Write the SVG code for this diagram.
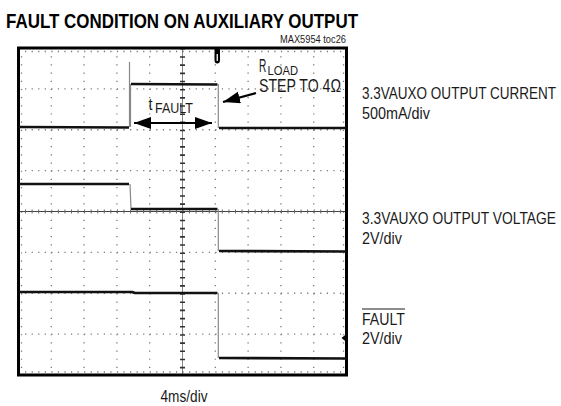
<svg xmlns="http://www.w3.org/2000/svg" width="561" height="406" viewBox="0 0 561 406">
<style>
text{font-family:"Liberation Sans",Arial,sans-serif;fill:#1a1a1a}
.lbl{font-size:16.5px}
.hdot{stroke:#777;stroke-width:1.3;stroke-dasharray:1.2 5.36;fill:none}
.vdot{stroke:#777;stroke-width:1.3;stroke-dasharray:1.2 6.975;fill:none}
.tr{stroke:#111;stroke-width:2.6;fill:none;stroke-linejoin:round}
.edge{stroke:#888;stroke-width:1.2;fill:none}
.arr{stroke:#000;stroke-width:2.2;fill:none}
</style>
<defs>
<marker id="ah" markerUnits="userSpaceOnUse" markerWidth="20" markerHeight="14" refX="17" refY="6" orient="auto-start-reverse">
<path d="M0,0 L17,6 L0,12 z" fill="#000"/>
</marker>
</defs>
<rect width="561" height="406" fill="#fff"/>
<g id="title">
<text transform="translate(6,27.5) scale(0.88,1)" font-size="20" font-weight="bold" textLength="400" lengthAdjust="spacingAndGlyphs" style="fill:#000">FAULT CONDITION ON AUXILIARY OUTPUT</text>
<text transform="translate(280,43) scale(0.85,1)" font-size="10.5" textLength="77.6" lengthAdjust="spacingAndGlyphs">MAX5954 toc26</text>
</g>
<g id="grid">
<line class="hdot" x1="18.5" y1="51.5" x2="346.5" y2="51.5"/>
<line class="hdot" x1="18.5" y1="88.9" x2="346.5" y2="88.9"/>
<line class="hdot" x1="18.5" y1="129.75" x2="346.5" y2="129.75"/>
<line class="hdot" x1="18.5" y1="170.6" x2="346.5" y2="170.6"/>
<line class="hdot" x1="18.5" y1="252.4" x2="346.5" y2="252.4"/>
<line class="hdot" x1="18.5" y1="293.25" x2="346.5" y2="293.25"/>
<line class="hdot" x1="18.5" y1="334.1" x2="346.5" y2="334.1"/>
<line class="hdot" x1="18.5" y1="372" x2="346.5" y2="372"/>
<line class="vdot" x1="21.5" y1="48" x2="21.5" y2="375"/>
<line class="vdot" x1="51.3" y1="48" x2="51.3" y2="375"/>
<line class="vdot" x1="84.1" y1="48" x2="84.1" y2="375"/>
<line class="vdot" x1="116.9" y1="48" x2="116.9" y2="375"/>
<line class="vdot" x1="149.7" y1="48" x2="149.7" y2="375"/>
<line class="vdot" x1="215.3" y1="48" x2="215.3" y2="375"/>
<line class="vdot" x1="248.1" y1="48" x2="248.1" y2="375"/>
<line class="vdot" x1="280.9" y1="48" x2="280.9" y2="375"/>
<line class="vdot" x1="313.7" y1="48" x2="313.7" y2="375"/>
<line class="vdot" x1="343.5" y1="48" x2="343.5" y2="375"/>
<line x1="18.5" y1="211.5" x2="346.5" y2="211.5" stroke="#444" stroke-width="1"/>
<line x1="18.5" y1="211.5" x2="346.5" y2="211.5" stroke="#666" stroke-width="4" stroke-dasharray="1 5.56"/>
<line x1="182.5" y1="48" x2="182.5" y2="375" stroke="#666" stroke-width="0.8"/>
<line x1="182.5" y1="48" x2="182.5" y2="375" stroke="#333" stroke-width="5" stroke-dasharray="1.6 6.575"/>
<rect x="18.5" y="48" width="328" height="327" fill="none" stroke="#000" stroke-width="3"/>
</g>
<g id="traces">
<polyline class="tr" points="19,127 129,127.5"/>
<line class="edge" x1="129.5" y1="127" x2="129.5" y2="62"/>
<line class="edge" x1="130.5" y1="127" x2="130.5" y2="84"/>
<polyline class="tr" points="131,84 217.5,84.5"/>
<line class="edge" x1="218.3" y1="84" x2="218.3" y2="128"/>
<polyline class="tr" points="219,128 346,128"/>
<polyline class="tr" points="19,184 129,184"/>
<line class="edge" x1="130" y1="184" x2="131" y2="209" stroke="#555"/>
<polyline class="tr" points="131,209 217.5,209"/>
<line class="edge" x1="218.3" y1="209" x2="218.3" y2="251"/>
<polyline class="tr" points="219,251 346,251.5"/>
<polyline class="tr" points="19,292 132,292 135,293 217.5,293"/>
<line class="edge" x1="218.3" y1="293" x2="218.3" y2="358"/>
<polyline class="tr" points="219,358 346,358.5"/>
<polygon points="341.5,338 347,333.5 347,342.5" fill="#000"/>
<path d="M214.5,48 h5.5 v12 q0,3.5 -2.75,3.5 q-2.75,0 -2.75,-3.5 z" fill="#000"/>
<rect x="216.6" y="54" width="1.3" height="7" fill="#fff"/>
</g>
<g id="annotations">
<line class="arr" x1="134" y1="123" x2="212" y2="123" marker-start="url(#ah)" marker-end="url(#ah)"/>
<text transform="translate(148.5,110) scale(0.85,1)" font-size="17">t</text>
<text transform="translate(155,113) scale(0.82,1)" font-size="14" textLength="46.3" lengthAdjust="spacingAndGlyphs">FAULT</text>
<line class="arr" x1="256" y1="93" x2="223" y2="102" marker-end="url(#ah)" stroke-width="1.8"/>
<text transform="translate(259,71.5) scale(0.58,1)" font-size="17.5">R</text>
<text transform="translate(267.5,74.5) scale(0.82,1)" font-size="13.5" textLength="37.2" lengthAdjust="spacingAndGlyphs">LOAD</text>
<text transform="translate(259,92) scale(0.82,1)" font-size="17.5" textLength="100" lengthAdjust="spacingAndGlyphs">STEP TO 4Ω</text>
</g>
<g id="labels">
<text class="lbl" transform="translate(362,99) scale(0.82,1)" textLength="236.6" lengthAdjust="spacingAndGlyphs">3.3VAUXO OUTPUT CURRENT</text>
<text class="lbl" transform="translate(362,119) scale(0.82,1)" textLength="82.9" lengthAdjust="spacingAndGlyphs">500mA/div</text>
<text class="lbl" transform="translate(362,224) scale(0.82,1)" textLength="236.6" lengthAdjust="spacingAndGlyphs">3.3VAUXO OUTPUT VOLTAGE</text>
<text class="lbl" transform="translate(362,244) scale(0.82,1)" textLength="48.8" lengthAdjust="spacingAndGlyphs">2V/div</text>
<line x1="362" y1="309" x2="405" y2="309" stroke="#1a1a1a" stroke-width="1"/>
<text class="lbl" transform="translate(362,325) scale(0.82,1)" textLength="52.4" lengthAdjust="spacingAndGlyphs">FAULT</text>
<text class="lbl" transform="translate(362,344) scale(0.82,1)" textLength="48.8" lengthAdjust="spacingAndGlyphs">2V/div</text>
<text class="lbl" transform="translate(160.5,402) scale(0.82,1)" textLength="57.3" lengthAdjust="spacingAndGlyphs">4ms/div</text>
</g>
</svg>
